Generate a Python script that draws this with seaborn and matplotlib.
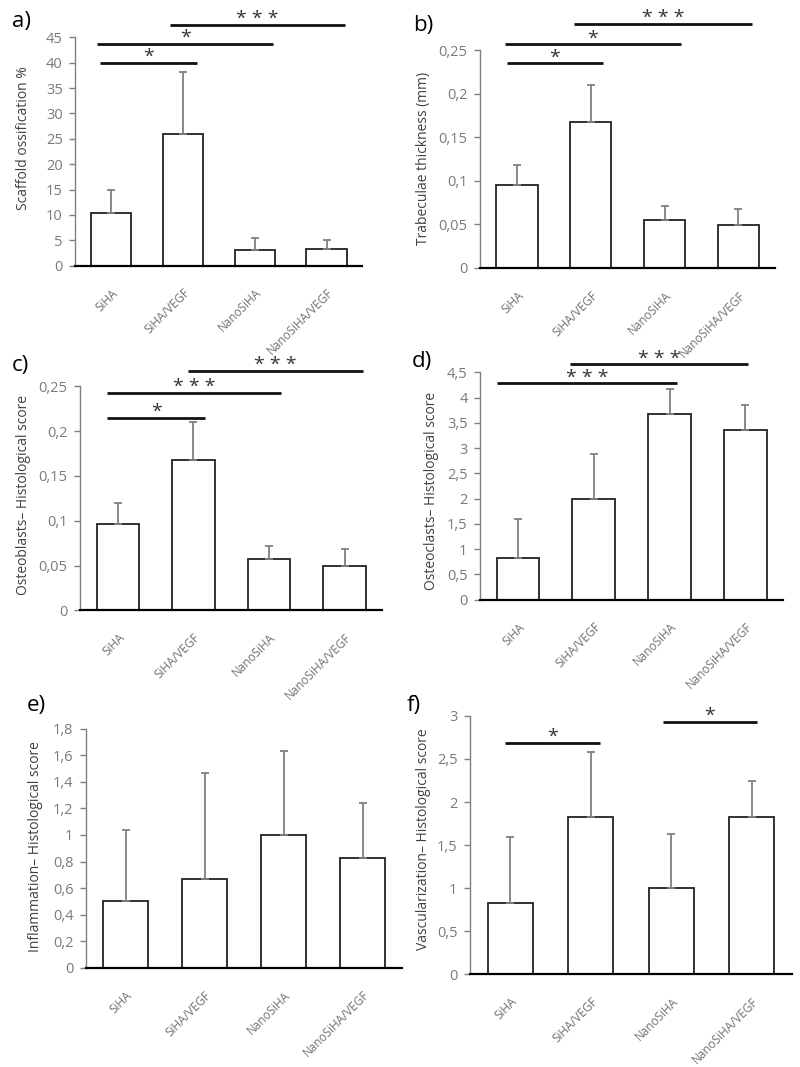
import numpy as np
import matplotlib
matplotlib.use("Agg")
import matplotlib.pyplot as plt
import seaborn as sns
from matplotlib.ticker import FuncFormatter

sns.set_theme(style="white")
plt.rcParams['font.family'] = ['Open Sans', 'DejaVu Sans']

groups = ["SiHA", "SiHA/VEGF", "NanoSiHA", "NanoSiHA/VEGF"]

# means and upper SD for each panel
ossif_mean = [10.3, 26.0, 3.0, 3.2]
ossif_sd = [4.7, 12.2, 2.5, 1.8]
trab_mean = [0.095, 0.167, 0.055, 0.049]
trab_sd = [0.023, 0.043, 0.016, 0.019]
oblast_mean = [0.096, 0.168, 0.057, 0.050]
oblast_sd = [0.024, 0.042, 0.015, 0.018]
oclast_mean = [0.82, 2.0, 3.67, 3.35]
oclast_sd = [0.78, 0.88, 0.51, 0.50]
inflam_mean = [0.50, 0.665, 1.0, 0.825]
inflam_sd = [0.54, 0.805, 0.63, 0.415]
vasc_mean = [0.83, 1.83, 1.0, 1.83]
vasc_sd = [0.76, 0.75, 0.63, 0.41]

# significance annotations: (x start, x end, y, label)
ossif_sig = [(-0.15, 1.19, 40.0, "*"), (-0.19, 2.26, 43.7, "*"), (0.82, 3.26, 47.5, "* * *")]
trab_sig = [(-0.14, 1.16, 0.235, "*"), (-0.16, 2.22, 0.257, "*"), (0.78, 3.18, 0.28, "* * *")]
oblast_sig = [(-0.14, 1.16, 0.215, "*"), (-0.14, 2.16, 0.243, "* * *"), (0.93, 3.24, 0.267, "* * *")]
oclast_sig = [(-0.28, 2.10, 4.28, "* * *"), (0.69, 3.03, 4.66, "* * *")]
inflam_sig = []
vasc_sig = [(-0.07, 1.12, 2.69, "*"), (1.90, 3.06, 2.93, "*")]

# letter, y label, means, sd, sig, ymax, step, axes rect, letter pos (px), ylabel pos (px)
panels = [
    ("a)", "Scaffold ossification %", ossif_mean, ossif_sd, ossif_sig, 45, 5,
     [0.094, 0.751, 0.359, 0.214], (12, 22), (31, 138)),
    ("b)", "Trabeculae thickness (mm)", trab_mean, trab_sd, trab_sig, 0.25, 0.05,
     [0.600, 0.749, 0.369, 0.204], (413, 25), (431, 158)),
    ("c)", "Osteoblasts\u2013 Histological score", oblast_mean, oblast_sd, oblast_sig, 0.25, 0.05,
     [0.100, 0.428, 0.378, 0.210], (12, 365), (31, 495)),
    ("d)", "Osteoclasts\u2013 Histological score", oclast_mean, oclast_sd, oclast_sig, 4.5, 0.5,
     [0.600, 0.438, 0.379, 0.213], (412, 362), (439, 491)),
    ("e)", "Inflammation\u2013 Histological score", inflam_mean, inflam_sd, inflam_sig, 1.8, 0.2,
     [0.1075, 0.093, 0.395, 0.224], (27, 706), (43, 847)),
    ("f)", "Vascularization\u2013 Histological score", vasc_mean, vasc_sd, vasc_sig, 3.0, 0.5,
     [0.5875, 0.087, 0.4025, 0.242], (407, 706), (431, 839)),
]

W, H = 800, 1067
fig = plt.figure(figsize=(W / 100, H / 100), dpi=100)

comma = FuncFormatter(lambda v, p: ('%g' % round(v, 3)).replace('.', ','))

for letter, ylabel, means, sds, sigs, ymax, step, rect, lpos, ypos in panels:
    ax = fig.add_axes(rect)
    sns.barplot(x=groups, y=means, color='white', edgecolor='#222222',
                linewidth=1.3, width=0.56, errorbar=None, ax=ax)
    for p in ax.patches:
        p.set_facecolor('white')
    x = np.arange(len(groups))
    ax.errorbar(x, means, yerr=[np.zeros(len(sds)), sds], fmt='none',
                ecolor='#808080', elinewidth=1.3, capsize=3, capthick=1.3)
    ax.set_xlim(-0.5, 3.5)
    ax.set_ylim(0, ymax)
    ax.set_yticks(np.round(np.arange(0, ymax + step / 2, step), 3))
    ax.yaxis.set_major_formatter(comma)
    for s in ['top', 'right']:
        ax.spines[s].set_visible(False)
    ax.spines['left'].set_color('#808080')
    ax.spines['left'].set_linewidth(1.0)
    ax.spines['bottom'].set_color('black')
    ax.spines['bottom'].set_linewidth(1.6)
    ax.tick_params(axis='y', left=True, length=4, width=1, color='#808080',
                   labelsize=10.5, labelcolor='#7a7a7a', pad=5)
    ax.tick_params(axis='x', bottom=False, labelsize=8.5, labelcolor='#707070', pad=9)
    plt.setp(ax.get_xticklabels(), rotation=45, ha='right', rotation_mode='anchor')
    ax.set_xlabel("")
    ax.set_ylabel(ylabel, fontsize=10, color='#404040')
    ax.yaxis.set_label_coords(ypos[0] / W, 1 - ypos[1] / H, transform=fig.transFigure)
    ax.grid(False)

    for x0, x1, y, lab in sigs:
        ax.plot([x0, x1], [y, y], color='#111111', lw=2, clip_on=False,
                solid_capstyle='butt')
        ax.annotate(lab, xy=((x0 + x1) / 2, y), xytext=(0, 0.5),
                    textcoords='offset points', ha='center', va='baseline',
                    fontsize=14, color='#333333', annotation_clip=False)

    fig.text(lpos[0] / W, 1 - lpos[1] / H, letter, fontsize=16, color='black',
             ha='left', va='center')

fig.savefig("out.png", dpi=100)
